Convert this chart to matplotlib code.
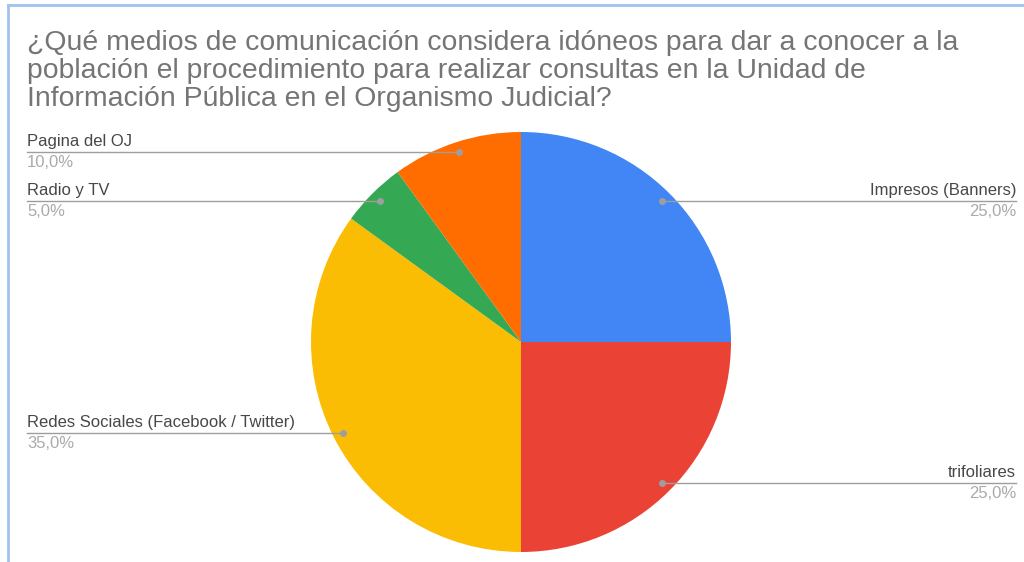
import numpy as np
import matplotlib.pyplot as plt
from matplotlib.lines import Line2D

# Survey answers (share of respondents, %)
labels = ['Impresos (Banners)', 'trifoliares', 'Redes Sociales (Facebook / Twitter)',
          'Radio y TV', 'Pagina del OJ']
values = [25.0, 25.0, 35.0, 5.0, 10.0]
colors = ['#4285F4', '#EA4335', '#FBBC04', '#34A853', '#FF6D01']

title = ('¿Qué medios de comunicación considera idóneos para dar a conocer a la\n'
         'población el procedimiento para realizar consultas en la Unidad de\n'
         'Información Pública en el Organismo Judicial?')

W, H = 1024, 562
plt.rcParams['font.family'] = ['Liberation Sans', 'DejaVu Sans']

fig = plt.figure(figsize=(W / 100, H / 100), dpi=100)
ax = fig.add_axes([0, 0, 1, 1])

# frame lines at top and left
fig.add_artist(Line2D([8 / W, 1], [1 - 5 / H, 1 - 5 / H], color='#9fc3ee', lw=2))
fig.add_artist(Line2D([8 / W, 8 / W], [0, 1 - 5 / H], color='#9fc3ee', lw=2))

cx, cy, r = 521, H - 342, 210
wedges, _ = ax.pie(values, colors=colors, startangle=90, counterclock=False,
                   center=(cx, cy), radius=r, frame=True,
                   wedgeprops=dict(linewidth=0))
ax.set_xlim(0, W)
ax.set_ylim(0, H)
ax.set_aspect('equal')
ax.axis('off')

for w, lab, val in zip(wedges, labels, values):
    ang = np.deg2rad((w.theta1 + w.theta2) / 2)
    px = cx + 0.95 * r * np.cos(ang)
    py = cy + 0.95 * r * np.sin(ang)
    if px > cx:
        xend, ha = 1016, 'right'
    else:
        xend, ha = 27, 'left'
    ax.plot([px, xend], [py, py], color='#9e9e9e', lw=1.0, zorder=3)
    ax.plot(px, py, 'o', color='#9e9e9e', ms=4, zorder=4)
    ax.text(xend, py + 3, lab, ha=ha, va='bottom', fontsize=12, color='#474747')
    pct = f'{val:.1f}%'.replace('.', ',')
    ax.text(xend, py - 3, pct, ha=ha, va='top', fontsize=12, color='#aaaaaa')

ax.text(27, H - 30, title, ha='left', va='top', fontsize=20.4, color='#757575',
        linespacing=1.1)

fig.savefig('out.png', dpi=100)
